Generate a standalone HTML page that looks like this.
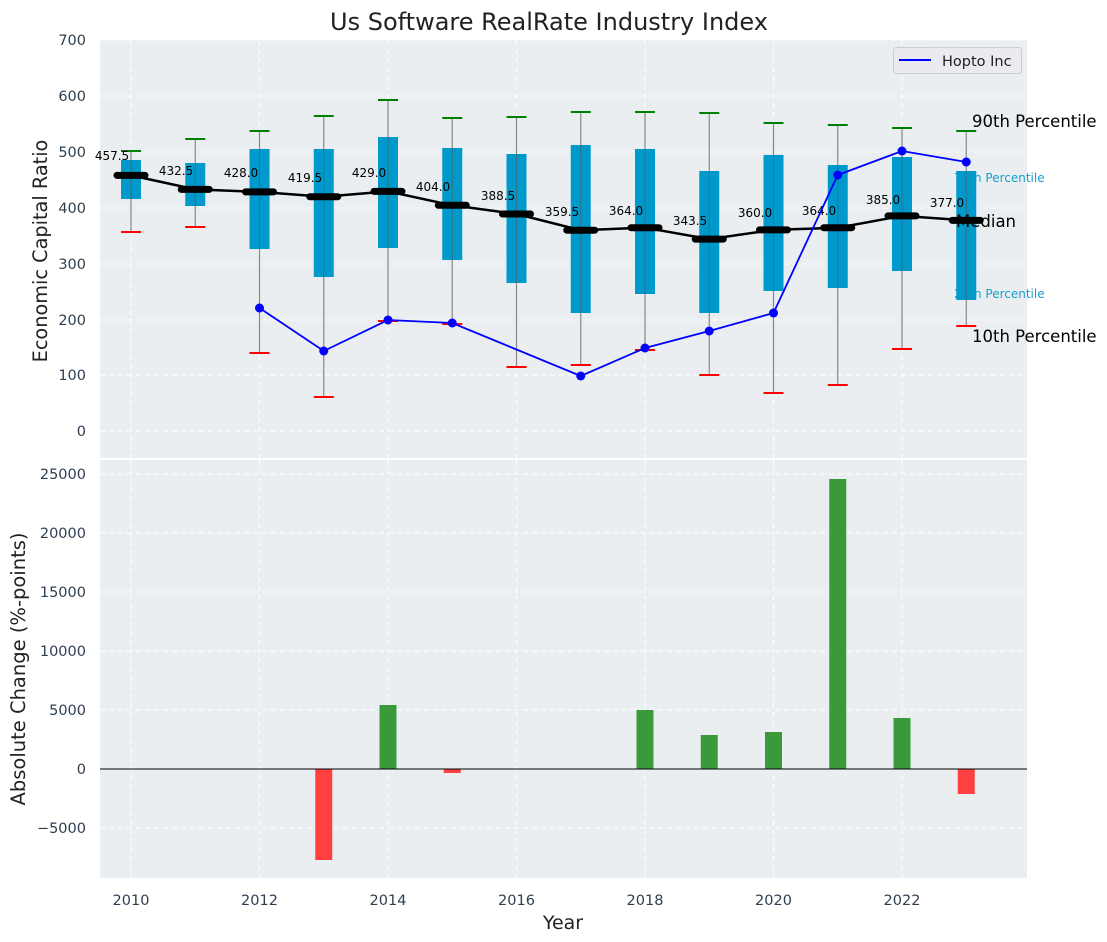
<!DOCTYPE html>
<html><head><meta charset="utf-8"><style>
body{margin:0;background:#fff;}
svg{display:block;font-family:"DejaVu Sans","Liberation Sans",sans-serif;}
.tk{fill:#2e3f52;font-size:14.5px;}
.ml{font-size:12px;fill:#000;}
</style></head><body>
<svg width="1107" height="942" viewBox="0 0 1107 942">
<rect width="1107" height="942" fill="#fff"/>
<text x="549" y="30" text-anchor="middle" font-size="24" fill="#222">Us Software RealRate Industry Index</text>
<rect x="100" y="40" width="927" height="418" fill="#eaeef0"/>
<g stroke="#fff" stroke-dasharray="5,4" stroke-width="1">
<line x1="100" x2="1027" y1="40" y2="40"/><line x1="100" x2="1027" y1="96" y2="96"/><line x1="100" x2="1027" y1="152" y2="152"/><line x1="100" x2="1027" y1="208" y2="208"/><line x1="100" x2="1027" y1="264" y2="264"/><line x1="100" x2="1027" y1="320" y2="320"/><line x1="100" x2="1027" y1="375" y2="375"/><line x1="100" x2="1027" y1="431" y2="431"/>
<line x1="131" x2="131" y1="40" y2="458"/><line x1="259.5" x2="259.5" y1="40" y2="458"/><line x1="388" x2="388" y1="40" y2="458"/><line x1="516.5" x2="516.5" y1="40" y2="458"/><line x1="645" x2="645" y1="40" y2="458"/><line x1="773.5" x2="773.5" y1="40" y2="458"/><line x1="902" x2="902" y1="40" y2="458"/>
</g>
<g class="tk" text-anchor="end">
<text x="86" y="45">700</text><text x="86" y="101">600</text><text x="86" y="157">500</text><text x="86" y="213">400</text><text x="86" y="269">300</text><text x="86" y="325">200</text><text x="86" y="380">100</text><text x="86" y="436">0</text>
</g>
<text transform="translate(47,251) rotate(-90)" text-anchor="middle" font-size="19.3" fill="#222">Economic Capital Ratio</text>
<text x="954" y="182" font-size="12" fill="#1aa0cc">75th Percentile</text>
<text x="954" y="298" font-size="12" fill="#1aa0cc">25th Percentile</text>
<g stroke="#888" stroke-width="1.2">
<line x1="131" x2="131" y1="151" y2="232"/><line x1="195.25" x2="195.25" y1="139" y2="227"/><line x1="259.5" x2="259.5" y1="131" y2="353"/><line x1="323.75" x2="323.75" y1="116" y2="397"/><line x1="388" x2="388" y1="100" y2="321"/><line x1="452.25" x2="452.25" y1="118" y2="324"/><line x1="516.5" x2="516.5" y1="117" y2="367"/><line x1="580.75" x2="580.75" y1="112" y2="365"/><line x1="645" x2="645" y1="112" y2="350"/><line x1="709.25" x2="709.25" y1="113" y2="375"/><line x1="773.5" x2="773.5" y1="123" y2="393"/><line x1="837.75" x2="837.75" y1="125" y2="385"/><line x1="902" x2="902" y1="128" y2="349"/><line x1="966.25" x2="966.25" y1="131" y2="326"/>
</g>
<g fill="#0099cc">
<rect x="121" y="160" width="20" height="39"/><rect x="185.25" y="163" width="20" height="43"/><rect x="249.5" y="149" width="20" height="100"/><rect x="313.75" y="149" width="20" height="128"/><rect x="378" y="137" width="20" height="111"/><rect x="442.25" y="148" width="20" height="112"/><rect x="506.5" y="154" width="20" height="129"/><rect x="570.75" y="145" width="20" height="168"/><rect x="635" y="149" width="20" height="145"/><rect x="699.25" y="171" width="20" height="142"/><rect x="763.5" y="155" width="20" height="136"/><rect x="827.75" y="165" width="20" height="123"/><rect x="892" y="157" width="20" height="114"/><rect x="956.25" y="171" width="20" height="129"/>
</g>
<g stroke="#555" stroke-width="1" opacity="0.6">
<line x1="131" x2="131" y1="160" y2="199"/><line x1="195.25" x2="195.25" y1="163" y2="206"/><line x1="259.5" x2="259.5" y1="149" y2="249"/><line x1="323.75" x2="323.75" y1="149" y2="277"/><line x1="388" x2="388" y1="137" y2="248"/><line x1="452.25" x2="452.25" y1="148" y2="260"/><line x1="516.5" x2="516.5" y1="154" y2="283"/><line x1="580.75" x2="580.75" y1="145" y2="313"/><line x1="645" x2="645" y1="149" y2="294"/><line x1="709.25" x2="709.25" y1="171" y2="313"/><line x1="773.5" x2="773.5" y1="155" y2="291"/><line x1="837.75" x2="837.75" y1="165" y2="288"/><line x1="902" x2="902" y1="157" y2="271"/><line x1="966.25" x2="966.25" y1="171" y2="300"/>
</g>
<g stroke="green" stroke-width="2">
<line x1="121" x2="141" y1="151" y2="151"/><line x1="185.25" x2="205.25" y1="139" y2="139"/><line x1="249.5" x2="269.5" y1="131" y2="131"/><line x1="313.75" x2="333.75" y1="116" y2="116"/><line x1="378" x2="398" y1="100" y2="100"/><line x1="442.25" x2="462.25" y1="118" y2="118"/><line x1="506.5" x2="526.5" y1="117" y2="117"/><line x1="570.75" x2="590.75" y1="112" y2="112"/><line x1="635" x2="655" y1="112" y2="112"/><line x1="699.25" x2="719.25" y1="113" y2="113"/><line x1="763.5" x2="783.5" y1="123" y2="123"/><line x1="827.75" x2="847.75" y1="125" y2="125"/><line x1="892" x2="912" y1="128" y2="128"/><line x1="956.25" x2="976.25" y1="131" y2="131"/>
</g>
<g stroke="red" stroke-width="2">
<line x1="121" x2="141" y1="232" y2="232"/><line x1="185.25" x2="205.25" y1="227" y2="227"/><line x1="249.5" x2="269.5" y1="353" y2="353"/><line x1="313.75" x2="333.75" y1="397" y2="397"/><line x1="378" x2="398" y1="321" y2="321"/><line x1="442.25" x2="462.25" y1="324" y2="324"/><line x1="506.5" x2="526.5" y1="367" y2="367"/><line x1="570.75" x2="590.75" y1="365" y2="365"/><line x1="635" x2="655" y1="350" y2="350"/><line x1="699.25" x2="719.25" y1="375" y2="375"/><line x1="763.5" x2="783.5" y1="393" y2="393"/><line x1="827.75" x2="847.75" y1="385" y2="385"/><line x1="892" x2="912" y1="349" y2="349"/><line x1="956.25" x2="976.25" y1="326" y2="326"/>
</g>
<polyline fill="none" stroke="#000" stroke-width="2.5" points="131,175.4 195.25,189.4 259.5,191.9 323.75,196.7 388,191.4 452.25,205.3 516.5,214 580.75,230.2 645,227.7 709.25,239.1 773.5,229.9 837.75,227.7 902,215.9 966.25,220.4"/>
<g stroke="#000" stroke-width="7" stroke-linecap="round">
<line x1="117" x2="145" y1="175.4" y2="175.4"/><line x1="181.25" x2="209.25" y1="189.4" y2="189.4"/><line x1="245.5" x2="273.5" y1="191.9" y2="191.9"/><line x1="309.75" x2="337.75" y1="196.7" y2="196.7"/><line x1="374" x2="402" y1="191.4" y2="191.4"/><line x1="438.25" x2="466.25" y1="205.3" y2="205.3"/><line x1="502.5" x2="530.5" y1="214" y2="214"/><line x1="566.75" x2="594.75" y1="230.2" y2="230.2"/><line x1="631" x2="659" y1="227.7" y2="227.7"/><line x1="695.25" x2="723.25" y1="239.1" y2="239.1"/><line x1="759.5" x2="787.5" y1="229.9" y2="229.9"/><line x1="823.75" x2="851.75" y1="227.7" y2="227.7"/><line x1="888" x2="916" y1="215.9" y2="215.9"/><line x1="952.25" x2="980.25" y1="220.4" y2="220.4"/>
</g>
<g class="ml" text-anchor="middle">
<text x="112" y="160">457.5</text><text x="176" y="175">432.5</text><text x="241" y="177">428.0</text><text x="305" y="182">419.5</text><text x="369" y="177">429.0</text><text x="433" y="191">404.0</text><text x="498" y="200">388.5</text><text x="562" y="216">359.5</text><text x="626" y="215">364.0</text><text x="690" y="225">343.5</text><text x="755" y="217">360.0</text><text x="819" y="215">364.0</text><text x="883" y="204">385.0</text><text x="947" y="207">377.0</text>
</g>
<polyline fill="none" stroke="#0000ff" stroke-width="1.8" points="259.5,308 323.75,351 388,320 452.25,323 580.75,376 645,348 709.25,331 773.5,313 837.75,175 902,151 966.25,162"/>
<g fill="#0000ff">
<circle cx="259.5" cy="308" r="4.5"/><circle cx="323.75" cy="351" r="4.5"/><circle cx="388" cy="320" r="4.5"/><circle cx="452.25" cy="323" r="4.5"/><circle cx="580.75" cy="376" r="4.5"/><circle cx="645" cy="348" r="4.5"/><circle cx="709.25" cy="331" r="4.5"/><circle cx="773.5" cy="313" r="4.5"/><circle cx="837.75" cy="175" r="4.5"/><circle cx="902" cy="151" r="4.5"/><circle cx="966.25" cy="162" r="4.5"/>
</g>
<text x="972" y="127" font-size="16.5" fill="#000">90th Percentile</text>
<text x="972" y="342" font-size="16.5" fill="#000">10th Percentile</text>
<text x="956" y="227" font-size="16.5" fill="#000">Median</text>
<rect x="893.5" y="47.5" width="128" height="26" rx="3" fill="#eaeaf0" stroke="#ccc"/>
<line x1="899" x2="931" y1="60" y2="60" stroke="#0000ff" stroke-width="2"/>
<text x="942" y="66" font-size="14.5" fill="#222">Hopto Inc</text>

<rect x="100" y="460" width="927" height="418" fill="#eaeef0"/>
<g stroke="#fff" stroke-dasharray="5,4" stroke-width="1">
<line x1="100" x2="1027" y1="474" y2="474"/><line x1="100" x2="1027" y1="533" y2="533"/><line x1="100" x2="1027" y1="592" y2="592"/><line x1="100" x2="1027" y1="651" y2="651"/><line x1="100" x2="1027" y1="710" y2="710"/><line x1="100" x2="1027" y1="828" y2="828"/>
<line x1="131" x2="131" y1="460" y2="878"/><line x1="259.5" x2="259.5" y1="460" y2="878"/><line x1="388" x2="388" y1="460" y2="878"/><line x1="516.5" x2="516.5" y1="460" y2="878"/><line x1="645" x2="645" y1="460" y2="878"/><line x1="773.5" x2="773.5" y1="460" y2="878"/><line x1="902" x2="902" y1="460" y2="878"/>
</g>
<g fill="#ff4040">
<rect x="315.25" y="769" width="17" height="91"/><rect x="443.75" y="769" width="17" height="4"/><rect x="957.75" y="769" width="17" height="25"/>
</g>
<g fill="#3a9a3a">
<rect x="379.5" y="705" width="17" height="64"/><rect x="636.5" y="710" width="17" height="59"/><rect x="700.75" y="735" width="17" height="34"/><rect x="765" y="732" width="17" height="37"/><rect x="829.25" y="479" width="17" height="290"/><rect x="893.5" y="718" width="17" height="51"/>
</g>
<line x1="100" x2="1027" y1="769" y2="769" stroke="#000" stroke-width="1"/>
<g class="tk" text-anchor="end">
<text x="86" y="479">25000</text><text x="86" y="538">20000</text><text x="86" y="597">15000</text><text x="86" y="656">10000</text><text x="86" y="715">5000</text><text x="86" y="774">0</text><text x="86" y="833">−5000</text>
</g>
<g class="tk" text-anchor="middle">
<text x="131" y="905">2010</text><text x="259.5" y="905">2012</text><text x="388" y="905">2014</text><text x="516.5" y="905">2016</text><text x="645" y="905">2018</text><text x="773.5" y="905">2020</text><text x="902" y="905">2022</text>
</g>
<text x="563" y="929" text-anchor="middle" font-size="19" fill="#222">Year</text>
<text transform="translate(25,669) rotate(-90)" text-anchor="middle" font-size="19.5" fill="#222">Absolute Change (%-points)</text>
</svg>
</body></html>
